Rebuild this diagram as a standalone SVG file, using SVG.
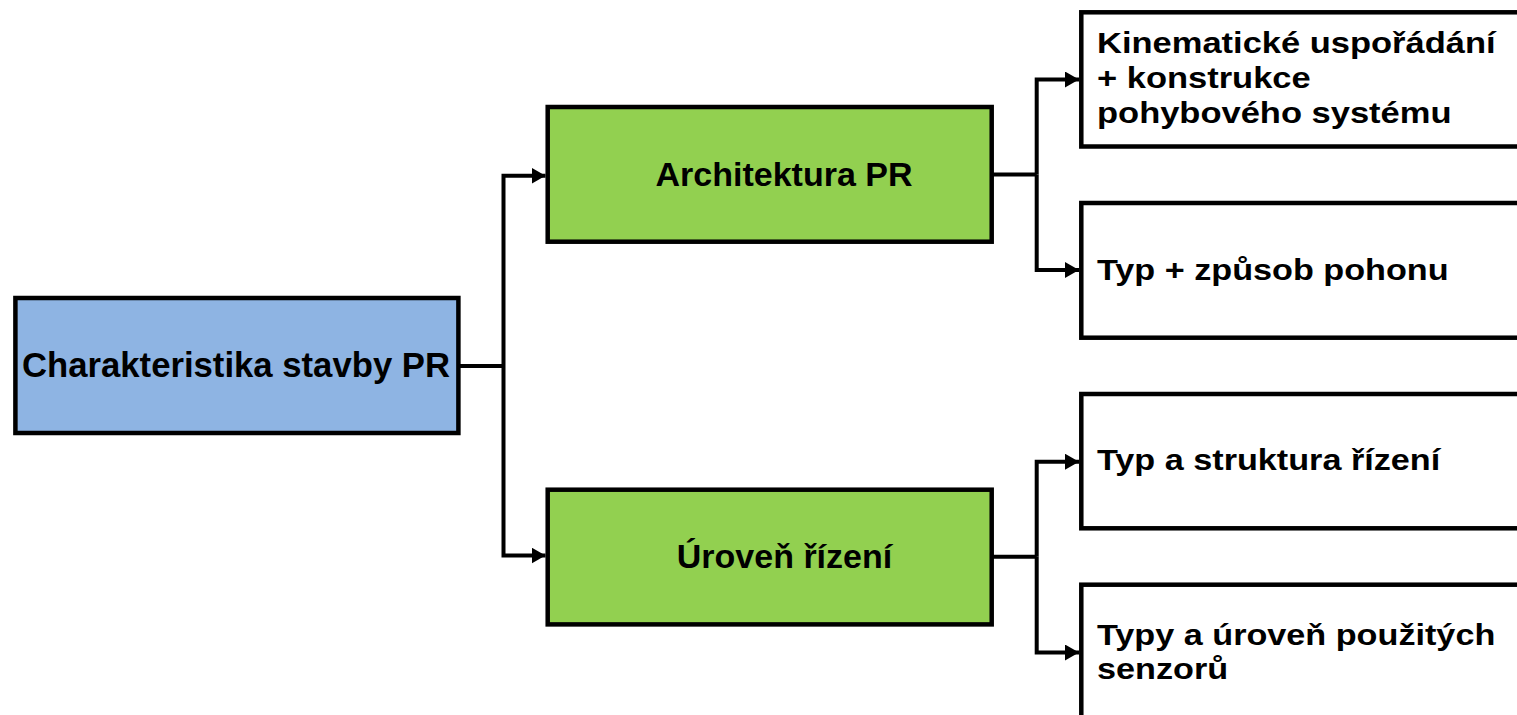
<svg xmlns="http://www.w3.org/2000/svg" width="1517" height="715" viewBox="0 0 1517 715">
<defs>
<style>
.box{stroke:#000;stroke-width:4.5;stroke-linejoin:miter}
.root{fill:#8EB4E3}
.mid{fill:#92D050}
.leaf{fill:#FFFFFF}
.t{font-family:"Liberation Sans",Arial,sans-serif;font-weight:bold;fill:#000}
.c{text-anchor:middle}
.conn{fill:none;stroke:#000;stroke-width:4;stroke-linejoin:miter}
</style>
<marker id="ah" markerUnits="userSpaceOnUse" markerWidth="14" markerHeight="16" viewBox="0 0 14 16" refX="14" refY="8" orient="auto">
<path d="M0,0 L14,8 L0,16 z" fill="#000"/>
</marker>
</defs>
<rect width="1517" height="715" fill="#FFFFFF"/>
<g id="connectors">
<path class="conn" d="M460,366 H503.5"/>
<path class="conn" d="M503.5,366 V175.7 H545.5" marker-end="url(#ah)"/>
<path class="conn" d="M503.5,366 V555.5 H545.5" marker-end="url(#ah)"/>
<path class="conn" d="M993,174.5 H1036.7"/>
<path class="conn" d="M1036.7,174.5 V79.5 H1079" marker-end="url(#ah)"/>
<path class="conn" d="M1036.7,174.5 V270 H1079" marker-end="url(#ah)"/>
<path class="conn" d="M993,556.7 H1036.7"/>
<path class="conn" d="M1036.7,556.7 V461.7 H1079" marker-end="url(#ah)"/>
<path class="conn" d="M1036.7,556.7 V652.5 H1079" marker-end="url(#ah)"/>
</g>
<g id="node-root">
<rect class="box root" x="15.4" y="298" width="443" height="135"/>
<text class="t c" x="236" y="377" font-size="34.7">Charakteristika stavby PR</text>
</g>
<g id="node-architektura">
<rect class="box mid" x="547.7" y="107" width="444" height="134.7"/>
<text class="t c" x="784" y="186" font-size="34">Architektura PR</text>
</g>
<g id="node-uroven">
<rect class="box mid" x="547.7" y="489.7" width="444" height="134.7"/>
<text class="t c" x="784.5" y="568" font-size="34">Úroveň řízení</text>
</g>
<g id="node-kinematicke">
<rect class="box leaf" x="1081.3" y="12.3" width="460" height="134.2"/>
<text class="t" font-size="30" transform="translate(1097,0) scale(1.15,1)"><tspan x="0" y="53">Kinematické uspořádání</tspan><tspan x="0" y="88">+ konstrukce</tspan><tspan x="0" y="123">pohybového systému</tspan></text>
</g>
<g id="node-pohon">
<rect class="box leaf" x="1081.3" y="203" width="460" height="134.7"/>
<text class="t" font-size="30" transform="translate(1097,0) scale(1.14,1)" x="0" y="280">Typ + způsob pohonu</text>
</g>
<g id="node-rizeni">
<rect class="box leaf" x="1081.3" y="394" width="460" height="134.3"/>
<text class="t" font-size="30" transform="translate(1097,0) scale(1.14,1)" x="0" y="470">Typ a struktura řízení</text>
</g>
<g id="node-senzory">
<rect class="box leaf" x="1081.3" y="584.7" width="460" height="134.5"/>
<text class="t" font-size="30" transform="translate(1097,0) scale(1.14,1)"><tspan x="0" y="645">Typy a úroveň použitých</tspan><tspan x="0" y="679">senzorů</tspan></text>
</g>
</svg>
